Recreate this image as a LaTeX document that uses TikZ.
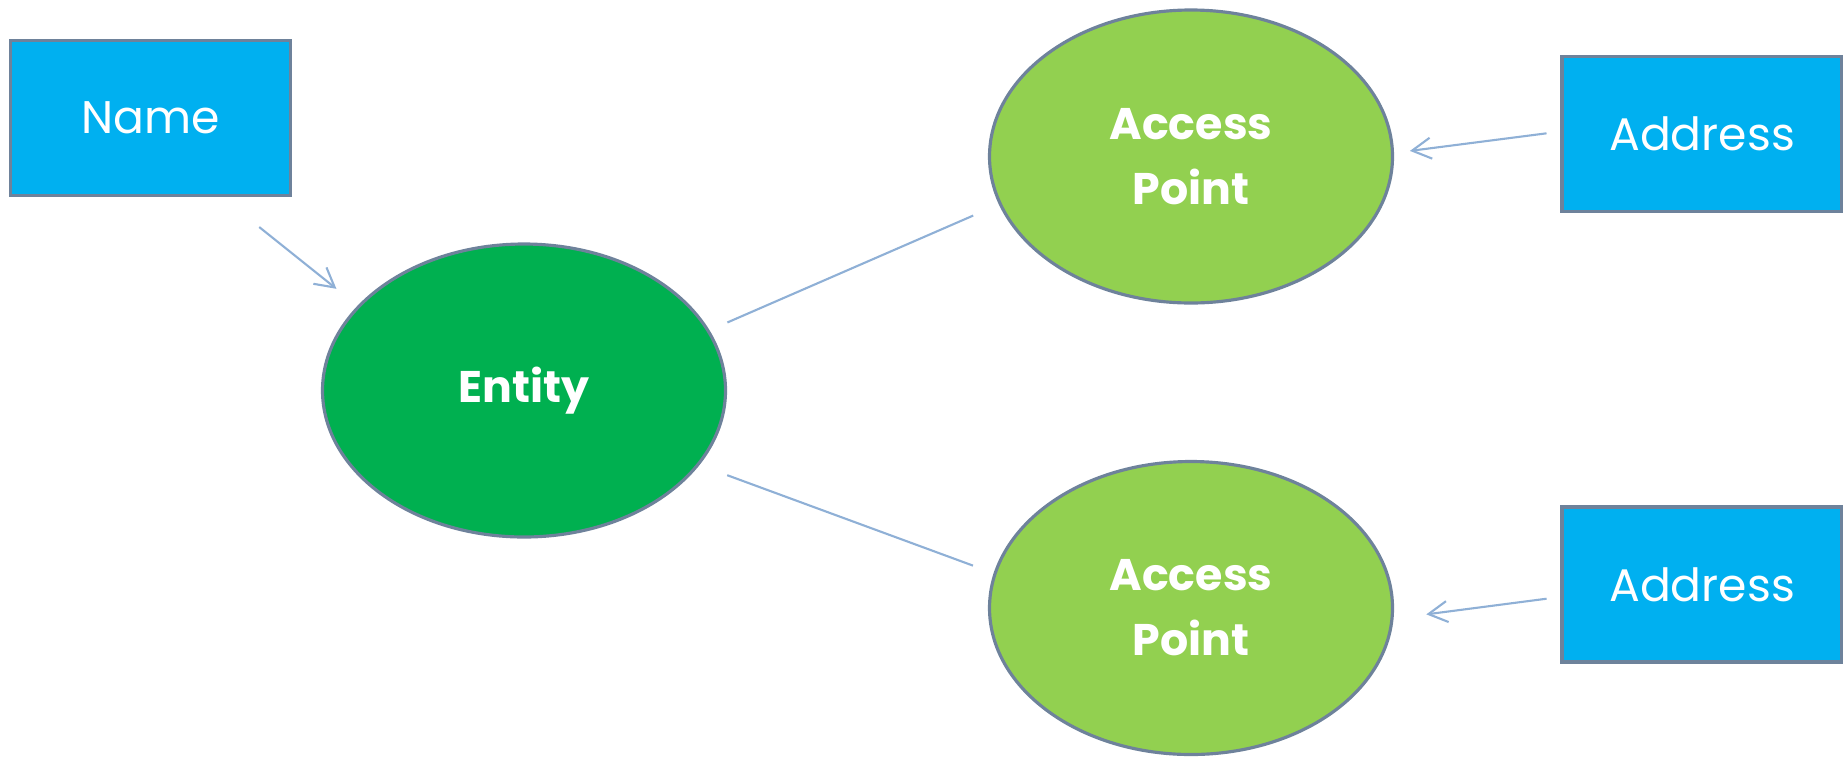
\documentclass[tikz,border=0pt]{standalone}
\usepackage{fontspec}
\setmainfont{Poppins}
\usetikzlibrary{arrows.meta,shapes.geometric}
\definecolor{boxblue}{RGB}{0,176,240}
\definecolor{entgreen}{RGB}{0,176,80}
\definecolor{apgreen}{RGB}{146,208,80}
\definecolor{rimgray}{RGB}{110,130,155}
\definecolor{linkblue}{RGB}{143,176,214}
\tikzset{>={Straight Barb[length=1.9mm,width=2.1mm]}}
\tikzset{
  field/.style={rectangle, draw=rimgray, line width=0.9pt, fill=boxblue, text=white,
    minimum width=2.8cm, minimum height=1.55cm, inner sep=0pt,
    font=\fontsize{13}{18.5}\selectfont},
  thing/.style={ellipse, draw=rimgray, line width=0.9pt, text=white,
    minimum width=4.03cm, minimum height=2.93cm, inner sep=0pt, align=center,
    font=\bfseries\fontsize{12.6}{18.5}\selectfont},
  link/.style={draw=linkblue, line width=0.6pt}
}

\begin{document}
\begin{tikzpicture}
    \useasboundingbox (0,0) rectangle (18.43,-7.56);
    \node[field] (name) at (1.505,-1.18) {Name};
    \node[thing, fill=entgreen] (entity) at (5.24,-3.905) {Entity};
    \node[thing, fill=apgreen] (apA) at (11.91,-1.565) {Access\\Point};
    \node[thing, fill=apgreen] (apB) at (11.91,-6.08) {Access\\Point};
    \node[field] (addrA) at (17.02,-1.34) {Address};
    \node[field] (addrB) at (17.02,-5.845) {Address};
    \draw[link, ->, shorten <=4.8mm, shorten >=2.7mm] (name.-48) -- (entity.153.3);
    \draw[link, shorten <=1.95mm, shorten >=2.8mm] (entity.18.7) -- (apA.-166.9);
    \draw[link, shorten <=2.95mm, shorten >=2.2mm] (entity.-23.5) -- (apB.170.7);
    \draw[link, ->, shorten <=1.4mm, shorten >=1.6mm] (addrA.179.4) -- (apA.1.5);
    \draw[link, ->, shorten <=1.4mm, shorten >=3.3mm] (addrB.185.6) -- (apB.-3.1);
\end{tikzpicture}
\end{document}
